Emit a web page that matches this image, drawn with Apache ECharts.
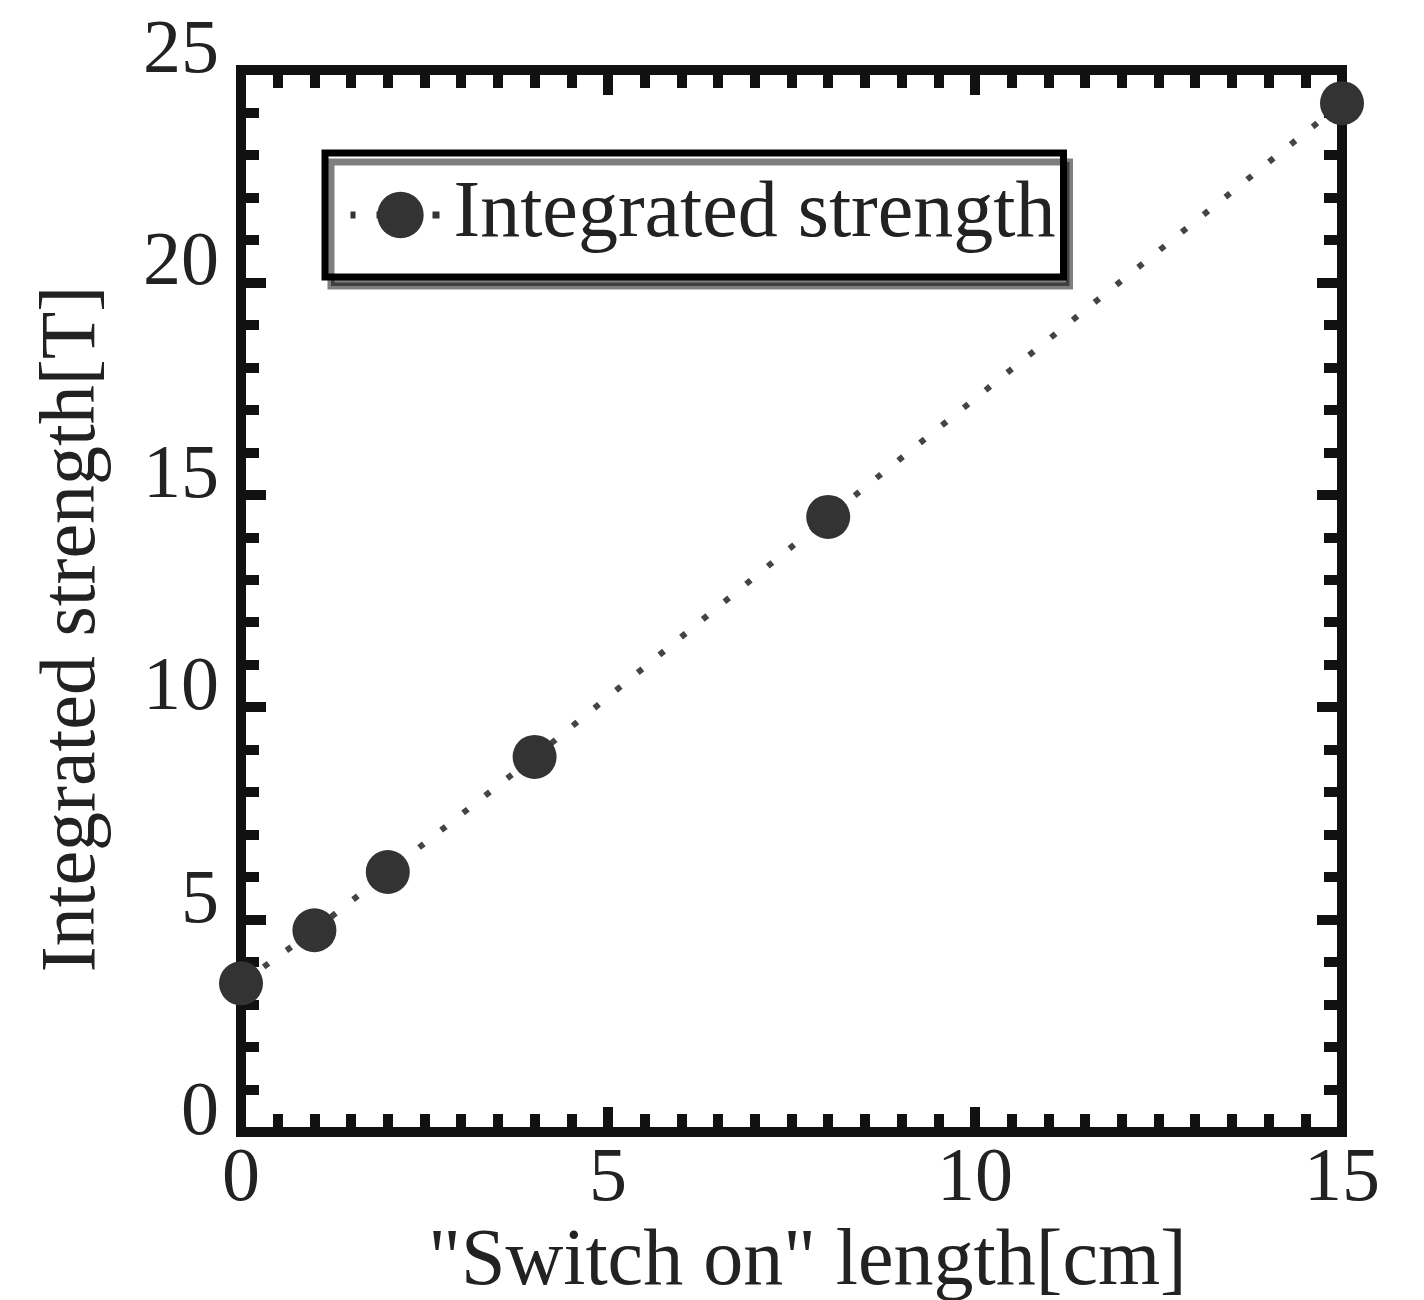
<!DOCTYPE html>
<html>
<head>
<meta charset="utf-8">
<script src="https://cdn.jsdelivr.net/npm/echarts@6/dist/echarts.min.js"></script>
<style>html,body{margin:0;padding:0;background:#fff;}#c{width:1424px;height:1300px;}</style>
</head>
<body>
<div id="c"></div>
<script>
const xValues = [0, 1, 2, 4, 8, 15];
const yValues = [3.5, 4.75, 6.12, 8.83, 14.48, 24.22];
const seriesName = 'Integrated strength';
const xAxisTitle = '"Switch on" length[cm]';
const yAxisTitle = 'Integrated strength[T]';

const FONT = '"Liberation Serif", "Times New Roman", serif';
const TXT = '#222';
const LINE = '#111';

const chart = echarts.init(document.getElementById('c'), null, {renderer: 'canvas'});
const pts = xValues.map((x, i) => [x, yValues[i]]);

function axisCommon(extra) {
  return Object.assign({
    type: 'value',
    splitLine: {show: false},
    axisLine: {show: true, onZero: false, lineStyle: {color: LINE, width: 10, cap: 'square'}},
    axisTick: {show: true, inside: true, length: 25, lineStyle: {color: LINE, width: 10}},
    minorTick: {show: true, length: 18, lineStyle: {color: LINE, width: 10}},
    minorSplitLine: {show: false}
  }, extra);
}

const option = {
  backgroundColor: '#fff',
  animation: false,
  grid: {left: 241, right: 82, top: 70, bottom: 168, containLabel: false, outerBoundsMode: 'none'},
  legend: {
    show: true,
    left: 325, top: 153,
    data: [seriesName],
    orient: 'horizontal',
    backgroundColor: '#fff',
    borderColor: '#000',
    borderWidth: 7,
    borderRadius: 0,
    shadowColor: 'rgba(0,0,0,0.5)',
    shadowOffsetX: 6,
    shadowOffsetY: 9,
    shadowBlur: 0,
    padding: [22, 8, 22, 22],
    itemWidth: 100,
    itemHeight: 58,
    itemGap: 0,
    lineStyle: {color: '#333', width: 7, type: [7, 21], dashOffset: 2},
    textStyle: {fontFamily: FONT, fontSize: 80, color: TXT, padding: [0, 0, 0, -2]}
  },
  xAxis: [
    axisCommon({
      min: 0, max: 15, interval: 5, position: 'bottom',
      minorTick: {show: true, splitNumber: 10, length: 18, lineStyle: {color: LINE, width: 10}},
      axisLabel: {show: true, fontFamily: FONT, fontSize: 76, color: TXT, margin: 10},
      name: xAxisTitle, nameLocation: 'middle', nameGap: 90,
      nameTextStyle: {fontFamily: FONT, fontSize: 80, color: TXT, padding: [0, 0, 0, 32]}
    }),
    axisCommon({
      min: 0, max: 15, interval: 5, position: 'top',
      minorTick: {show: true, splitNumber: 10, length: 18, lineStyle: {color: LINE, width: 10}},
      axisLabel: {show: false}
    })
  ],
  yAxis: [
    axisCommon({
      min: 0, max: 25, interval: 5, position: 'left',
      minorTick: {show: true, splitNumber: 5, length: 18, lineStyle: {color: LINE, width: 10}},
      axisLabel: {show: true, fontFamily: FONT, fontSize: 76, color: TXT, margin: 22, verticalAlign: 'bottom', lineHeight: 36},
      name: yAxisTitle, nameLocation: 'middle', nameGap: 128, nameRotate: 90,
      nameTextStyle: {fontFamily: FONT, fontSize: 78, color: TXT, padding: [0, 56, 0, 0]}
    }),
    axisCommon({
      min: 0, max: 25, interval: 5, position: 'right',
      minorTick: {show: true, splitNumber: 5, length: 18, lineStyle: {color: LINE, width: 10}},
      axisLabel: {show: false}
    })
  ],
  series: [{
    name: seriesName,
    type: 'line',
    xAxisIndex: 0, yAxisIndex: 0,
    data: pts,
    clip: false,
    symbol: 'circle',
    symbolSize: 44,
    itemStyle: {color: '#333'},
    lineStyle: {color: '#444', width: 6, type: [6, 22]},
    z: 5
  }]
};
chart.setOption(option);
</script>
</body>
</html>
